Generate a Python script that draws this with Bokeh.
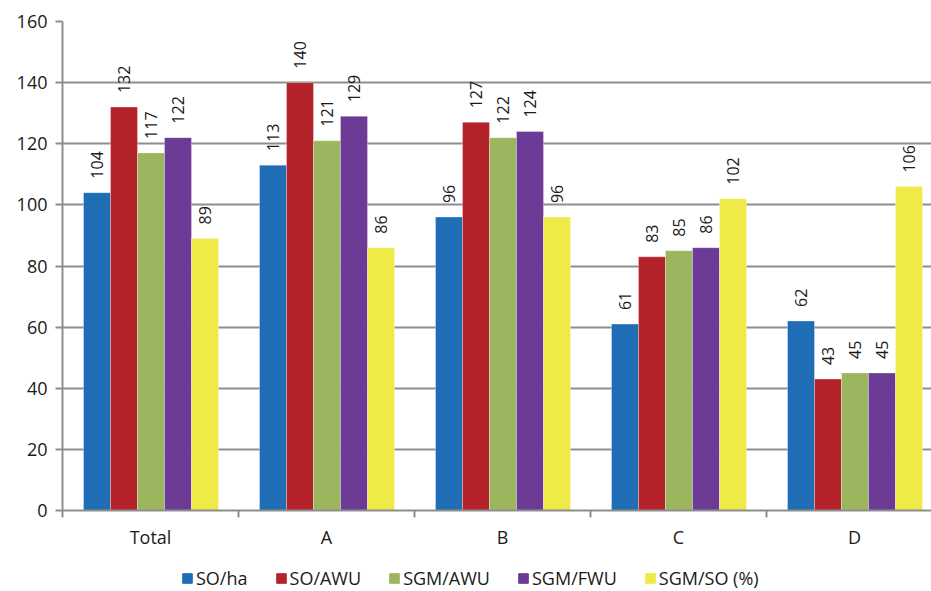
import numpy as np
from bokeh.plotting import figure
from bokeh.layouts import column
from bokeh.models import (ColumnDataSource, Range1d, FixedTicker, Legend, LegendItem,
                          CustomJSTickFormatter)
from bokeh.core.properties import value
from bokeh.embed import file_html
from bokeh.resources import INLINE

categories = ["Total", "A", "B", "C", "D"]
series = ["SO/ha", "SO/AWU", "SGM/AWU", "SGM/FWU", "SGM/SO (%)"]
so_ha = [104, 113, 96, 61, 62]
so_awu = [132, 140, 127, 83, 43]
sgm_awu = [117, 121, 122, 85, 45]
sgm_fwu = [122, 129, 124, 86, 45]
sgm_so = [89, 86, 96, 102, 106]
colors = ["#1F6EB5", "#B5232A", "#9BB65E", "#6C3B96", "#EEEA48"]
y_ticks = [0, 20, 40, 60, 80, 100, 120, 140, 160]

FONT = "Open Sans"
TXT = "#1a1a1a"
GRID = "#8E8E8E"

all_vals = [so_ha, so_awu, sgm_awu, sgm_fwu, sgm_so]

p = figure(width=931, height=552, output_backend="svg", toolbar_location=None,
           x_range=Range1d(0, 869 / 176), y_range=Range1d(0, 160),
           min_border_left=62, min_border_right=0, min_border_top=21, min_border_bottom=42)
p.outline_line_color = None
p.background_fill_color = "white"
p.border_fill_color = "white"

bw = 27 / 176
off0 = 21 / 176 + bw / 2
idx = np.arange(len(categories))
for j, (name, vals, col) in enumerate(zip(series, all_vals, colors)):
    xs = idx + off0 + j * bw
    src = ColumnDataSource(dict(x=xs, top=vals, lab=[str(v) for v in vals]))
    p.vbar(x="x", top="top", width=bw, bottom=0, source=src, fill_color=col,
           line_color="white", line_width=0.6, line_alpha=0.5)
    p.text(x="x", y="top", text="lab", source=src, angle=np.pi / 2,
           text_align="left", text_baseline="middle", y_offset=-14,
           text_font=value(FONT), text_font_size="16px", text_color=TXT)

# y axis
p.yaxis.ticker = FixedTicker(ticks=y_ticks)
p.yaxis.axis_line_color = GRID
p.yaxis.axis_line_width = 2
p.yaxis.major_tick_line_color = GRID
p.yaxis.major_tick_line_width = 2
p.yaxis.major_tick_out = 7
p.yaxis.major_tick_in = 0
p.yaxis.minor_tick_line_color = None
p.yaxis.major_label_text_font = FONT
p.yaxis.major_label_text_font_size = "18px"
p.yaxis.major_label_text_color = TXT
p.yaxis.major_label_standoff = 8

p.ygrid.ticker = FixedTicker(ticks=y_ticks)
p.ygrid.grid_line_color = GRID
p.ygrid.grid_line_width = 2
p.xgrid.grid_line_color = None

# x axis: labels at category centres, small ticks at category boundaries
p.xaxis.ticker = FixedTicker(ticks=list(idx + 0.5), minor_ticks=list(range(len(categories) + 1)))
p.xaxis.formatter = CustomJSTickFormatter(args=dict(cats=categories),
                                          code="return cats[Math.floor(tick)] || '';")
p.xaxis.axis_line_color = GRID
p.xaxis.axis_line_width = 2
p.xaxis.major_tick_line_color = None
p.xaxis.major_tick_out = 0
p.xaxis.major_tick_in = 0
p.xaxis.minor_tick_line_color = GRID
p.xaxis.minor_tick_line_width = 2
p.xaxis.minor_tick_out = 7
p.xaxis.minor_tick_in = 0
p.xaxis.major_label_text_font = FONT
p.xaxis.major_label_text_font_size = "18px"
p.xaxis.major_label_text_color = TXT
p.xaxis.major_label_standoff = 7

# legend strip below the chart (its frame is aligned with the chart's frame)
lf = figure(width=931, height=39, output_backend="svg", toolbar_location=None,
            x_range=Range1d(0, 1), y_range=Range1d(0, 1),
            min_border_left=0, min_border_right=0, min_border_top=0, min_border_bottom=0)
lf.axis.visible = False
lf.grid.visible = False
lf.outline_line_color = None
lf.border_fill_color = "white"
items = []
for name, col in zip(series, colors):
    # zero-size proxy bar, only used to draw the legend swatch
    r = lf.vbar(x=[0], top=[0], bottom=0, width=0, fill_color=col, line_color=col)
    items.append(LegendItem(label=name, renderers=[r]))
legend = Legend(items=items, orientation="horizontal", location=(119, 1),
                label_text_font=FONT, label_text_font_size="18px", label_text_color=TXT,
                glyph_width=12, glyph_height=12, label_standoff=3, spacing=27,
                padding=0, margin=0, border_line_color=None, background_fill_alpha=0)
lf.add_layout(legend, "center")

layout = column(p, lf, spacing=0)
open("out.html", "w").write(file_html(layout, INLINE))
